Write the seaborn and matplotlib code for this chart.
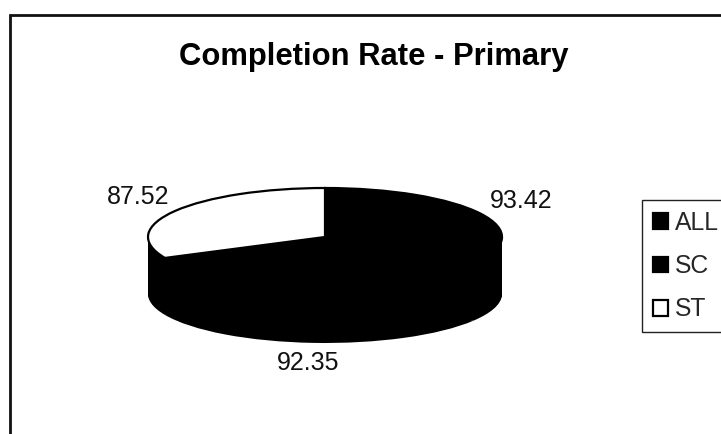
import matplotlib.pyplot as plt
from matplotlib.patches import Rectangle
import numpy as np
import seaborn as sns

categories = ["ALL", "SC", "ST"]
completion = [93.42, 92.35, 87.52]
slice_colors = ["black", "black", "white"]

sns.set_theme(style="white")
plt.rcParams["font.family"] = ["Liberation Sans", "DejaVu Sans"]

W, H = 721, 434
CX, CY = 325, 237
RX, RY = 177, 49
DEPTH = 57

fig = plt.figure(figsize=(W / 100, H / 100), dpi=100, facecolor="white")
ax = fig.add_axes([0, 0, 1, 1])

# fake the 3D look: black pies stacked downward, then the real top face
for d in np.arange(DEPTH, 0, -1.0):
    ax.pie(completion, startangle=90, counterclock=False, colors=["black"] * 3,
           center=(0, -d / RY), wedgeprops={"linewidth": 0})
wedges, _ = ax.pie(completion, startangle=90, counterclock=False, colors=slice_colors,
                   wedgeprops={"edgecolor": "black", "linewidth": 1.6})

ax.set_aspect("auto")
ax.set_xlim(-CX / RX, (W - CX) / RX)
ax.set_ylim((CY - H) / RY, CY / RY)


def px(x, y):
    return x / W, 1 - y / H


# value labels
label_pos = [(521, 201), (308, 363), (138, 197)]
for val, (x, y) in zip(completion, label_pos):
    fx, fy = px(x, y)
    fig.text(fx, fy, f"{val:.2f}", fontsize=18, color="#111111", ha="center", va="center")

fx, fy = px(374, 57)
fig.text(fx, fy, "Completion Rate - Primary", fontsize=22.3, fontweight="bold",
         color="black", ha="center", va="center")

# outer chart border runs off the right and bottom of the scan
fx, fy = px(10, 15)
fig.add_artist(Rectangle((fx, -0.05), 1.1, fy + 0.05, transform=fig.transFigure,
                         fill=False, edgecolor="#111111", linewidth=2))

fx, fy = px(642, 200)
leg = fig.legend(wedges, categories, loc="upper left", bbox_to_anchor=(fx, fy),
                 bbox_transform=fig.transFigure, fontsize=17.8, frameon=True, fancybox=False,
                 edgecolor="#222222", framealpha=1, borderaxespad=0, borderpad=0.44,
                 handlelength=0.6, handleheight=0.6, handletextpad=0.3, labelspacing=0.78)
leg.get_frame().set_linewidth(1.0)

fig.savefig("out.png", dpi=100)
